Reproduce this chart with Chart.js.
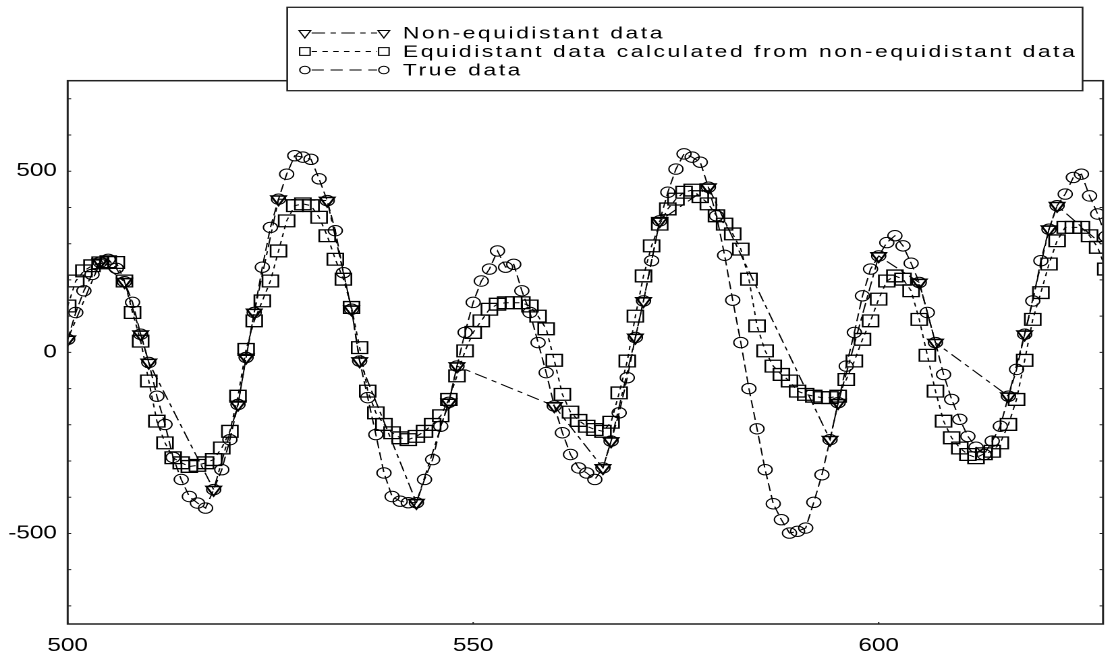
<!DOCTYPE html>
<html>
<head>
<meta charset="utf-8">
<script src="https://cdn.jsdelivr.net/npm/chart.js@4.4.1/dist/chart.umd.min.js"></script>
<style>
  html, body { margin: 0; padding: 0; background: #fff; overflow: hidden; width: 1111px; height: 657px; }
  #c { display: block; }
</style>
</head>
<body>
<canvas id="c"></canvas>
<script>
// ---------------- data ----------------
const trueX = [500,501,502,503,504,505,506,507,508,509,510,511,512,513,514,515,516,517,518,519,520,521,522,523,524,525,526,527,528,529,530,531,532,533,534,535,536,537,538,539,540,541,542,543,544,545,546,547,548,549,550,551,552,553,554,555,556,557,558,559,560,561,562,563,564,565,566,567,568,569,570,571,572,573,574,575,576,577,578,579,580,581,582,583,584,585,586,587,588,589,590,591,592,593,594,595,596,597,598,599,600,601,602,603,604,605,606,607,608,609,610,611,612,613,614,615,616,617,618,619,620,621,622,623,624,625,626,627,628];
const trueY = [36,110,170,215,249,257,232,195,138,50,-28,-121,-199,-290,-351,-398,-416,-430,-379,-324,-241,-144,-14,110,235,345,423,492,543,539,533,479,419,336,220,119,-24,-125,-227,-333,-398,-411,-415,-415,-351,-296,-204,-138,-38,55,138,197,230,280,235,243,170,110,27,-56,-148,-222,-282,-319,-333,-351,-319,-245,-167,-70,41,142,253,363,442,506,548,539,525,456,377,268,144,27,-100,-211,-324,-418,-462,-499,-494,-485,-414,-338,-241,-139,-38,55,156,230,266,303,322,294,246,193,110,27,-61,-130,-185,-232,-262,-282,-245,-204,-121,-47,50,142,253,340,405,437,483,492,432,382,320];

const nonEqX = [500,504,507,509,510,518,521,522,523,526,532,535,536,543,547,548,560,566,567,570,571,573,579,594,595,600,605,607,616,618,621,622,631];
const nonEqY = [36,249,195,50,-28,-379,-144,-14,110,423,419,119,-24,-415,-138,-38,-148,-319,-245,41,142,363,456,-241,-139,266,193,27,-121,50,340,405,230];

const eqX = [500,501,502,503,504,505,506,507,508,509,510,511,512,513,514,515,516,517,518,519,520,521,522,523,524,525,526,527,528,529,530,531,532,533,534,535,536,537,538,539,540,541,542,543,544,545,546,547,548,549,550,551,552,553,554,555,556,557,558,559,560,561,562,563,564,565,566,567,568,569,570,571,572,573,574,575,576,577,578,579,580,581,582,583,584,585,586,587,588,589,590,591,592,593,594,595,596,597,598,599,600,601,602,603,604,605,606,607,608,609,610,611,612,613,614,615,616,617,618,619,620,621,622,623,624,625,626,627,628];
const eqY = [128,197,225,239,247,250,248,197,110,31,-79,-190,-250,-291,-305,-315,-312,-305,-296,-264,-218,-121,8,87,142,197,280,363,405,410,405,373,322,257,202,124,13,-107,-167,-199,-222,-236,-241,-232,-218,-199,-175,-130,-65,4,55,87,119,133,137,137,137,128,100,65,-22,-116,-165,-188,-204,-213,-218,-193,-112,-24,100,211,294,354,396,423,442,448,430,410,377,354,327,285,202,73,4,-38,-61,-79,-107,-116,-121,-125,-125,-121,-75,-24,36,87,147,197,211,202,170,91,-8,-107,-190,-236,-264,-282,-291,-280,-273,-250,-199,-130,-22,91,165,244,308,345,345,345,322,290,230];

const xTicks = [500, 550, 600];
const yMinorTicks = [-700,-600,-500,-400,-300,-200,-100,0,100,200,300,400,500,600,700];
const yTickLabels = [-500, 0, 500];

const labels = {
  nonEq: 'Non-equidistant data',
  eq: 'Equidistant data calculated from non-equidistant data',
  tru: 'True data'
};

// ---------------- layout (horizontal stretch like the original) ----------------
const K = 1.35;               // horizontal stretch factor
const DISPLAY_W = 1116;       // canvas display width (right frame just outside the window)
const W = Math.round(DISPLAY_W / K);
const H = 657;
const canvas = document.getElementById('c');
canvas.setAttribute('width', W);
canvas.setAttribute('height', H);
canvas.style.width = (W * K) + 'px';
canvas.style.height = H + 'px';

const AXIS_LEFT = 67.7 / K;
const AXIS_RIGHT = 1112 / K;
const AXIS_TOP = 80.7;
const AXIS_BOTTOM = 624;

const FONT = "'Liberation Sans', Arial, sans-serif";

const pts = (xs, ys) => xs.map((x, i) => ({x, y: ys[i]}));

const framePlugin = {
  id: 'frame',
  afterDraw(chart) {
    const {ctx, chartArea: a, scales} = chart;
    const xs = scales.x, ys = scales.y;
    ctx.save();
    ctx.strokeStyle = '#222';
    ctx.lineWidth = 1.5;
    ctx.setLineDash([]);
    ctx.strokeRect(a.left, a.top, a.right - a.left, a.bottom - a.top);
    // inward minor ticks
    ctx.lineWidth = 1;
    ys.ticks.forEach(t => {
      const py = ys.getPixelForValue(t.value);
      ctx.beginPath();
      ctx.moveTo(a.left, py); ctx.lineTo(a.left + 2.6, py);
      ctx.moveTo(a.right, py); ctx.lineTo(a.right - 2.6, py);
      ctx.stroke();
    });
    xs.ticks.forEach(t => {
      const px = xs.getPixelForValue(t.value);
      ctx.beginPath();
      ctx.moveTo(px, a.bottom); ctx.lineTo(px, a.bottom - 2);
      ctx.stroke();
    });
    // legend
    const bx = 287.3 / K, by = 7.3, bw = (1083 - 287.3) / K, bh = 90.7 - 7.3;
    ctx.fillStyle = '#fff';
    ctx.fillRect(bx, by, bw, bh);
    ctx.strokeStyle = '#222';
    ctx.lineWidth = 1.3;
    ctx.strokeRect(bx, by, bw, bh);
    const rows = [
      {ds: 2, y: 33},
      {ds: 1, y: 51.5},
      {ds: 0, y: 70}
    ];
    const m1 = 305 / K, m2 = 384 / K, tx = 403 / K;
    rows.forEach(r => {
      const d = chart.data.datasets[r.ds];
      ctx.save();
      ctx.strokeStyle = '#000';
      ctx.lineWidth = 1;
      ctx.setLineDash(d.legendDash);
      ctx.beginPath();
      ctx.moveTo(m1 + 5, r.y); ctx.lineTo(m2 - 5, r.y);
      ctx.stroke();
      ctx.setLineDash([]);
      const opts = {pointStyle: d.pointStyle, radius: d.legendRadius, rotation: d.rotation || 0, borderWidth: 1};
      ctx.fillStyle = 'rgba(0,0,0,0)';
      Chart.helpers.drawPoint(ctx, opts, m1, r.y);
      Chart.helpers.drawPoint(ctx, opts, m2, r.y);
      ctx.restore();
      ctx.fillStyle = '#000';
      ctx.font = '17px ' + FONT;
      ctx.letterSpacing = '1.87px';
      ctx.textBaseline = 'middle';
      ctx.textAlign = 'left';
      ctx.fillText(d.label, tx, r.y + 1);
    });
    ctx.restore();
  }
};

new Chart(canvas, {
  type: 'scatter',
  data: {
    datasets: [
      {
        label: labels.tru,
        data: pts(trueX, trueY),
        showLine: true,
        borderColor: '#000', borderWidth: 1, borderDash: [8, 4],
        pointStyle: 'circle', pointRadius: 5.2, pointBorderWidth: 1,
        pointBorderColor: '#000', pointBackgroundColor: 'rgba(0,0,0,0)',
        legendDash: [9, 5], legendRadius: 3.8,
        order: 3
      },
      {
        label: labels.eq,
        data: pts(eqX, eqY),
        showLine: true,
        borderColor: '#000', borderWidth: 1, borderDash: [4, 4],
        pointStyle: 'rect', pointRadius: 8.3, pointBorderWidth: 1.3,
        pointBorderColor: '#000', pointBackgroundColor: 'rgba(0,0,0,0)',
        legendDash: [4, 4], legendRadius: 5.5,
        order: 2
      },
      {
        label: labels.nonEq,
        data: pts(nonEqX, nonEqY),
        showLine: true,
        borderColor: '#000', borderWidth: 1, borderDash: [10, 4, 4, 4],
        pointStyle: 'triangle', rotation: 180, pointRadius: 6.3, pointBorderWidth: 1.6,
        pointBorderColor: '#000', pointBackgroundColor: 'rgba(0,0,0,0)',
        legendDash: [10, 4, 4, 4], legendRadius: 5,
        order: 1
      }
    ]
  },
  options: {
    responsive: false,
    animation: false,
    devicePixelRatio: 2,
    layout: { padding: { top: AXIS_TOP, right: W - AXIS_RIGHT, left: 0, bottom: 0 } },
    plugins: { legend: { display: false }, tooltip: { enabled: false } },
    scales: {
      x: {
        type: 'linear', min: 500, max: 500 + (1112 - 67.7) / 8.18,
        ticks: { padding: 11, color: '#000', font: { family: FONT, size: 18 }, maxRotation: 0, autoSkip: false },
        afterBuildTicks(s) { s.ticks = xTicks.map(v => ({value: v})); },
        grid: { display: false, drawTicks: false },
        border: { display: false },
        afterFit(s) { s.height = H - AXIS_BOTTOM; }
      },
      y: {
        type: 'linear', min: -750, max: 750,
        ticks: { padding: 8, color: '#000', font: { family: FONT, size: 18 }, autoSkip: false,
                 callback: v => yTickLabels.includes(Math.round(v)) ? String(Math.round(v)) : '' },
        afterBuildTicks(s) { s.ticks = yMinorTicks.map(v => ({value: v})); },
        grid: { display: false, drawTicks: false },
        border: { display: false },
        afterFit(s) { s.width = AXIS_LEFT; }
      }
    }
  },
  plugins: [framePlugin]
});
</script>
</body>
</html>
